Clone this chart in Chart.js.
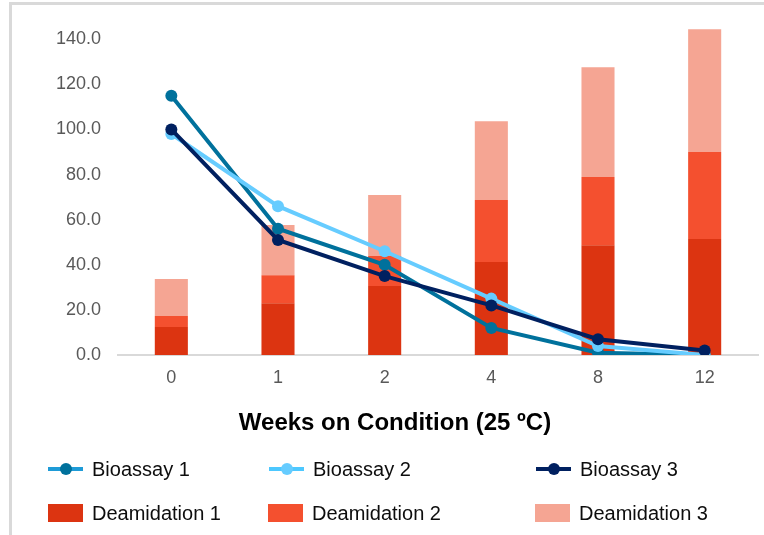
<!DOCTYPE html>
<html>
<head>
<meta charset="utf-8">
<script src="https://cdn.jsdelivr.net/npm/chart.js@4"></script>
<style>
  html, body { margin: 0; padding: 0; background: #fff; }
  #wrap { position: relative; width: 764px; height: 535px; overflow: hidden; font-family: "Liberation Sans", Arial, sans-serif; }
  #chartBox { position: absolute; left: 0; top: 0; width: 764px; height: 535px; }
  #frame { position: absolute; left: 9px; top: 2px; width: 800px; height: 600px; border-left: 3px solid #d9d9d9; border-top: 3px solid #d9d9d9; pointer-events: none; }
  .item { position: absolute; font-size: 20px; color: #0d0d0d; line-height: 20px; white-space: nowrap; }
  .line { position: absolute; height: 4px; width: 35px; top: 8px; }
  .dot { position: absolute; width: 12px; height: 12px; border-radius: 6px; top: 4px; left: 12px; }
  .box { position: absolute; width: 35px; height: 18px; top: 1px; }
</style>
</head>
<body>
<div id="wrap">
  <div id="chartBox"><canvas id="chart"></canvas></div>
  <div id="frame"></div>
  <div id="legend"></div>
</div>
<script>
const weeks = ["0", "1", "2", "4", "8", "12"];
const deamidation1 = [12.4, 23.0, 30.6, 41.2, 48.7, 51.4];
const deamidation2 = [4.9, 12.4, 13.3, 27.5, 30.2, 38.6];
const deamidation3 = [16.4, 22.2, 27.0, 35.0, 48.7, 54.4];
const bioassay1 = [115, 56, 40, 12, 1, 0];
const bioassay2 = [98, 66, 46, 25, 4, 0];
const bioassay3 = [100, 51, 35, 22, 7, 2];
const xTitle = "Weeks on Condition (25 ºC)";

const colors = {
  b1: "#00719c", b2: "#66ccff", b3: "#002060",
  d1: "#dc3411", d2: "#f4502f", d3: "#f5a593"
};

function lineSet(label, data, color, order, stack) {
  return {
    type: "line", label: label, data: data, order: order, stack: stack,
    borderColor: color, backgroundColor: color, borderWidth: 4,
    pointRadius: 6, pointBorderWidth: 0, pointBackgroundColor: color,
    tension: 0, fill: false
  };
}

function barSet(label, data, color, order) {
  return {
    type: "bar", label: label, data: data, order: order, stack: "deam",
    backgroundColor: color, borderWidth: 0,
    barPercentage: 0.31, categoryPercentage: 1.0
  };
}

// axis title sits left of the plot centre in the original, so draw it ourselves
const axisTitle = {
  id: "axisTitle",
  afterDraw(chart) {
    const c = chart.ctx;
    c.save();
    c.font = "bold 24px 'Liberation Sans', Arial, sans-serif";
    c.fillStyle = "#000";
    c.textAlign = "center";
    c.textBaseline = "middle";
    c.fillText(xTitle, 395, chart.scales.x.top + 68);
    c.restore();
  }
};

const ctx = document.getElementById("chart");
new Chart(ctx, {
  data: {
    labels: weeks,
    datasets: [
      lineSet("Bioassay 1", bioassay1, colors.b1, 3, "b1"),
      lineSet("Bioassay 2", bioassay2, colors.b2, 2, "b2"),
      lineSet("Bioassay 3", bioassay3, colors.b3, 1, "b3"),
      barSet("Deamidation 1", deamidation1, colors.d1, 4),
      barSet("Deamidation 2", deamidation2, colors.d2, 5),
      barSet("Deamidation 3", deamidation3, colors.d3, 6)
    ]
  },
  options: {
    responsive: true,
    maintainAspectRatio: false,
    animation: false,
    layout: { padding: { top: 28, right: 2, bottom: 80, left: 0 } },
    plugins: { legend: { display: false }, tooltip: { enabled: false } },
    scales: {
      x: {
        stacked: true,
        grid: { display: false, drawTicks: false },
        border: { display: true, color: "#d9d9d9", width: 2 },
        ticks: { color: "#595959", padding: 12, font: { family: "Liberation Sans", size: 18 } },
        afterFit: function (scale) { scale.height = 100; }
      },
      y: {
        stacked: true,
        min: 0, max: 145,
        grid: { display: false, drawTicks: false },
        border: { display: false },
        ticks: {
          stepSize: 20, includeBounds: false, color: "#595959", padding: 17,
          font: { family: "Liberation Sans", size: 18 },
          callback: function (v) { return v.toFixed(1); }
        },
        afterFit: function (scale) { scale.width = 118; }
      }
    }
  },
  plugins: [axisTitle]
});

// legend laid out like the original (3 columns, 2 rows)
const legendItems = [
  { label: "Bioassay 1", kind: "line", color: colors.b1, line: "#1e9bd7", x: 48, y: 459 },
  { label: "Bioassay 2", kind: "line", color: colors.b2, line: "#4dc8ff", x: 269, y: 459 },
  { label: "Bioassay 3", kind: "line", color: colors.b3, line: colors.b3, x: 536, y: 459 },
  { label: "Deamidation 1", kind: "box", color: colors.d1, x: 48, y: 503 },
  { label: "Deamidation 2", kind: "box", color: colors.d2, x: 268, y: 503 },
  { label: "Deamidation 3", kind: "box", color: colors.d3, x: 535, y: 503 }
];
const legend = document.getElementById("legend");
legendItems.forEach(function (it) {
  const el = document.createElement("div");
  el.className = "item";
  el.style.left = it.x + "px";
  el.style.top = it.y + "px";
  let marker = "";
  if (it.kind === "line") {
    marker = '<div class="line" style="background:' + it.line + '"></div>' +
             '<div class="dot" style="background:' + it.color + '"></div>';
  } else {
    marker = '<div class="box" style="background:' + it.color + '"></div>';
  }
  el.innerHTML = marker + '<span style="margin-left:44px">' + it.label + "</span>";
  legend.appendChild(el);
});
</script>
</body>
</html>
